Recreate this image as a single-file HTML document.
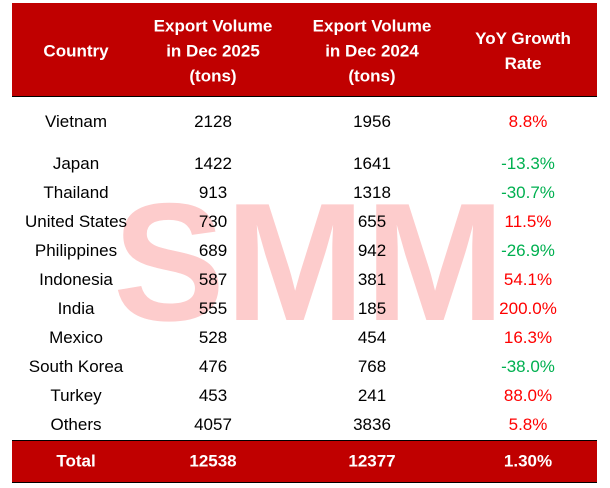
<!DOCTYPE html>
<html><head><style>
body{margin:0;width:610px;height:488px;background:#fff;position:relative;overflow:hidden;font-family:"Liberation Sans",sans-serif;}
.band{position:absolute;left:12px;width:585px;background:#C00000;}
.t{position:absolute;transform:translate(-50%,-50%);white-space:nowrap;font-size:17px;color:#000;}
.h{color:#fff;font-weight:bold;text-align:center;line-height:25px;}
.r{color:#FF0000}.g{color:#00B050}
.wm{position:absolute;left:113px;top:178px;font-size:168px;font-weight:bold;color:#FDCCCC;line-height:1;transform:scaleX(1.0);transform-origin:left top}
</style></head><body>
<div class="wm">SMM</div>
<div class="band" style="top:3px;height:93px"></div>
<div class="band" style="top:440px;height:41px;border-top:1px solid #000;border-bottom:1px solid #000"></div>
<div style="position:absolute;left:12px;width:585px;top:96px;height:1px;background:#000"></div>
<div class="t h" style="left:76px;top:51px">Country</div>
<div class="t h" style="left:213px;top:51px">Export Volume<br>in Dec 2025<br>(tons)</div>
<div class="t h" style="left:372px;top:51px">Export Volume<br>in Dec 2024<br>(tons)</div>
<div class="t h" style="left:523px;top:51px">YoY Growth<br>Rate</div>
<div id="rows"></div>
<script>
var d=[["Vietnam","2128","1956","8.8%","r",122],["Japan","1422","1641","-13.3%","g",164],["Thailand","913","1318","-30.7%","g",193],["United States","730","655","11.5%","r",222],["Philippines","689","942","-26.9%","g",251],["Indonesia","587","381","54.1%","r",280],["India","555","185","200.0%","r",309],["Mexico","528","454","16.3%","r",338],["South Korea","476","768","-38.0%","g",367],["Turkey","453","241","88.0%","r",396],["Others","4057","3836","5.8%","r",425]];
var h="";d.forEach(function(a){h+='<div class="t" style="left:76px;top:'+a[5]+'px">'+a[0]+'</div><div class="t" style="left:213px;top:'+a[5]+'px">'+a[1]+'</div><div class="t" style="left:372px;top:'+a[5]+'px">'+a[2]+'</div><div class="t '+a[4]+'" style="left:528px;top:'+a[5]+'px">'+a[3]+'</div>';});
document.getElementById("rows").innerHTML=h;
</script>
<div class="t h" style="left:76px;top:461px">Total</div>
<div class="t h" style="left:213px;top:461px">12538</div>
<div class="t h" style="left:372px;top:461px">12377</div>
<div class="t h" style="left:528px;top:461px">1.30%</div>
</body></html>
